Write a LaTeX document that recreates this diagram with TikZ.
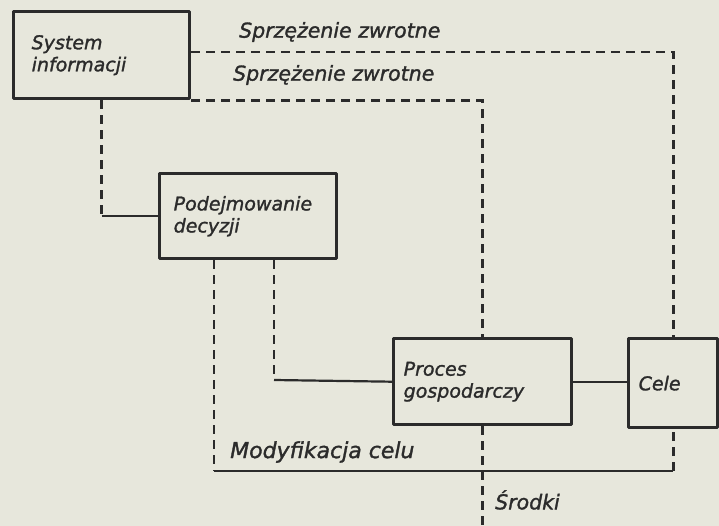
\documentclass[tikz,border=0pt]{standalone}
\usepackage{fontspec}
\setmainfont{DejaVu Sans}
\newfontfamily\lettering{DejaVu Sans}[FakeBold=1.4]
\definecolor{paper}{HTML}{E7E7DC}
\definecolor{ink}{HTML}{2B2B2B}
\begin{document}
\begin{tikzpicture}[x=1pt,y=-1pt,
  box/.style={draw=ink, line width=3.4pt, align=left, anchor=north west,
    font=\lettering\fontsize{19}{22}\selectfont\itshape, text=ink, inner ysep=0pt, line join=round},
  dsh/.style={draw=ink, line width=2.8pt, dash pattern=on 9pt off 6pt},
  sld/.style={draw=ink, line width=2.2pt},
  lbl/.style={font=\lettering\fontsize{20.5}{24}\selectfont\itshape, text=ink, anchor=west, inner sep=0pt}]
\fill[paper] (0,0) rectangle (719,526);
\useasboundingbox (0,0) rectangle (719,526);
% boxes
\node[box, minimum width=176pt, minimum height=87pt, text width=140pt, inner xsep=18pt] (sys) at (12,10) {System\\informacji};
\node[box, minimum width=177pt, minimum height=85pt, text width=149pt, inner xsep=14pt] (dec) at (158,172) {Podejmowanie\\decyzji};
\node[box, minimum width=178pt, minimum height=86pt, text width=158pt, inner xsep=10pt] (proc) at (392,337) {Proces\\gospodarczy};
\node[box, minimum width=89pt, minimum height=89pt, text width=69pt, inner xsep=10pt] (cele) at (627,337) {Cele};
% coordinates
\coordinate (m1) at (214,471);
\coordinate (m2) at (cele.south |- m1);
\coordinate (kx) at (274,380);
\coordinate (bot) at (proc.south |- 0,526);
% feedback loops
\draw[dsh] (sys.east |- 0,52) -| (cele.north);
\draw[dsh] (sys.south east) -| (proc.north);
% system -> decision
\draw[dsh] (sys.south) -- (sys.south |- dec.west);
\draw[sld] (sys.south |- dec.west) -- (dec.west);
% decision -> process
\draw[dsh] (kx |- dec.south) -- (kx);
\draw[sld] (kx) -- (proc.west);
% process -- goals
\draw[sld] (proc.east) -- (proc.east -| cele.west);
% goal modification
\draw[dsh] (m1 |- dec.south) -- (m1);
\draw[sld] (m1) -- (m2);
\draw[dsh] (m2) -- (cele.south);
% means
\draw[dsh] (proc.south) -- (bot);
% labels
\node[lbl] (l1) at (239,32) {Sprzężenie zwrotne};
\node[lbl] (l2) at (233,75) {Sprzężenie zwrotne};
\node[lbl, font=\lettering\fontsize{22}{24}\selectfont\itshape] (l3) at (230,452) {Modyfikacja celu};
\node[lbl] (l4) at (495,500) {Środki};
\end{tikzpicture}
\end{document}
